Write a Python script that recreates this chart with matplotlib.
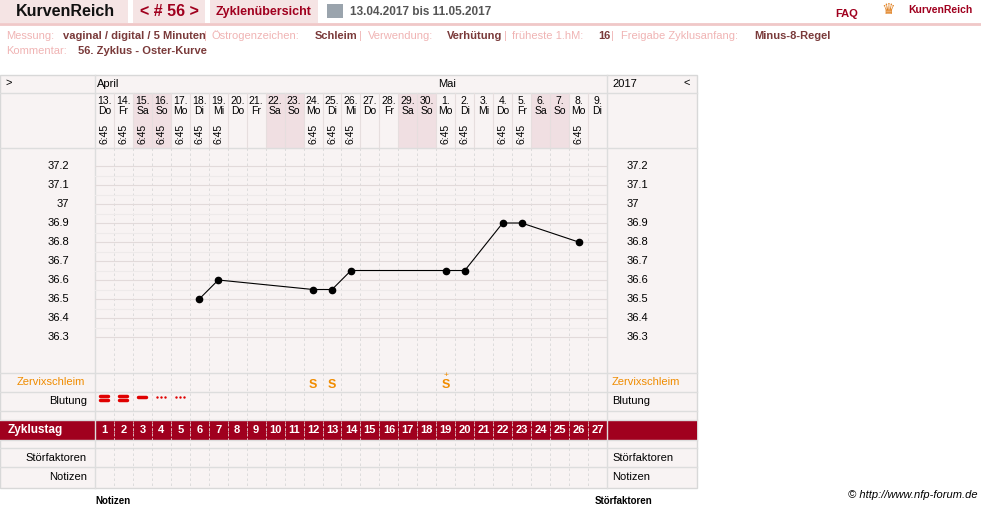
import matplotlib
matplotlib.use("Agg")
import matplotlib.pyplot as plt
from matplotlib.patches import Rectangle

plt.rcParams['font.family'] = ['Liberation Sans Narrow', 'Liberation Sans', 'DejaVu Sans']

days = list(range(1, 28))
dates = ["13.","14.","15.","16.","17.","18.","19.","20.","21.","22.","23.","24.","25.","26.","27.","28.","29.","30.","1.","2.","3.","4.","5.","6.","7.","8.","9."]
weekdays = ["Do","Fr","Sa","So","Mo","Di","Mi","Do","Fr","Sa","So","Mo","Di","Mi","Do","Fr","Sa","So","Mo","Di","Mi","Do","Fr","Sa","So","Mo","Di"]
times = ["6:45"]*7 + [""]*4 + ["6:45"]*3 + [""]*4 + ["6:45"]*2 + [""] + ["6:45"]*2 + [""]*2 + ["6:45"] + [""]
temp_days = [6, 7, 12, 13, 14, 19, 20, 22, 23, 26]
temps = [36.5, 36.6, 36.55, 36.55, 36.65, 36.65, 36.65, 36.9, 36.9, 36.8]
yticks = [36.3, 36.4, 36.5, 36.6, 36.7, 36.8, 36.9, 37.0, 37.1, 37.2]
ytick_labels = ["36.3","36.4","36.5","36.6","36.7","36.8","36.9","37","37.1","37.2"]
schleim_days = [12, 13, 19]
bleed = {1: "=", 2: "=", 3: "-", 4: "...", 5: "..."}

W, H = 981, 507
fig = plt.figure(figsize=(W/100, H/100), dpi=100)
ax = fig.add_axes([0, 0, 1, 1])
ax.set_xlim(0, W); ax.set_ylim(H, 0); ax.axis("off")

DARK = "#a0001e"; PINK = "#f5e4e4"; BG = "#f8f3f3"; GRID = "#dddddd"; LBL = "#f0b4b4"; VAL = "#7a3a3a"
X0, CW = 95, 18.96
def cx(d): return X0 + (d - 0.5) * CW

for (x0, x1) in [(0, 128), (133, 205), (210, 318)]:
    ax.add_patch(Rectangle((x0, 0), x1 - x0, 23, color=PINK, lw=0))
ax.plot([0, W], [24, 24], color="#f0c8c8", lw=2)
ax.text(16, 12, "KurvenReich", fontsize=11.5, fontweight="bold", va="center", color="#111", family=["Liberation Sans", "DejaVu Sans"])
ax.text(169, 12, "< # 56 >", fontsize=11.5, fontweight="bold", va="center", ha="center", color=DARK)
ax.text(264, 12, "Zyklenübersicht", fontsize=9, va="center", ha="center", color=DARK, fontweight="bold")
ax.add_patch(Rectangle((327, 4), 16, 14, color="#9aa4ad", lw=0))
ax.text(350, 12, "13.04.2017 bis 11.05.2017", fontsize=8.5, va="center", color="#555", fontweight="bold")
ax.text(847, 14, "FAQ", fontsize=8, va="center", ha="center", color=DARK, fontweight="bold")
ax.text(908, 10, "KurvenReich", fontsize=7.5, va="center", color=DARK, fontweight="bold")
ax.text(888, 10, "♛", fontsize=11, va="center", ha="center", color="#e08020", family=["DejaVu Sans"])

segs = [("Messung:", LBL), ("vaginal / digital / 5 Minuten", VAL), ("|", LBL), ("Östrogenzeichen:", LBL),
        ("Schleim", VAL), ("|", LBL), ("Verwendung:", LBL), ("Verhütung", VAL), ("|", LBL),
        ("früheste 1.hM:", LBL), ("16", VAL), ("|", LBL), ("Freigabe Zyklusanfang:", LBL), ("Minus-8-Regel", VAL)]
xs = [6, 63, 204, 212, 315, 359, 368, 447, 504, 512, 598, 611, 621, 754]
for (t, c), x in zip(segs, xs):
    ax.text(x, 36, t, fontsize=8, va="center", color=c, fontweight="bold" if c == VAL else "normal")
ax.text(6, 51, "Kommentar:", fontsize=8, va="center", color=LBL)
ax.text(78, 51, "56. Zyklus - Oster-Kurve", fontsize=8, va="center", color=VAL, fontweight="bold")

T0, T1 = 75, 488
ax.add_patch(Rectangle((0, T0), 697, T1 - T0, facecolor=BG, edgecolor="#d8d8d8", lw=1))
for d, wd in zip(days, weekdays):
    if wd in ("Sa", "So"):
        ax.add_patch(Rectangle((X0 + (d - 1) * CW, 93), CW, 55, color="#f0dfe2", lw=0))
for y in [93, 148, 373, 392, 411, 420, 440, 448, 467]:
    ax.plot([0, 697], [y, y], color=GRID, lw=1)
ax.plot([X0, X0], [T0, T1], color=GRID, lw=1)
ax.plot([607, 607], [T0, T1], color=GRID, lw=1)
for d in days[1:]:
    x = X0 + (d - 1) * CW
    ax.plot([x, x], [93, 148], color="#e6dede", lw=0.8)
    ax.plot([x, x], [148, T1], color="#d8d8d8", lw=0.6, ls=(0, (3, 3)))
ax.text(5, 83, ">", fontsize=8, va="center")
ax.text(690, 83, "<", fontsize=8, va="center", ha="right")
ax.text(97, 84, "April", fontsize=8, va="center")
ax.text(438, 84, "Mai", fontsize=8, va="center")
ax.text(612, 84, "2017", fontsize=8, va="center")
for d, dt, wd, tm in zip(days, dates, weekdays, times):
    ax.text(cx(d), 101, dt, fontsize=7.5, ha="center", va="center")
    ax.text(cx(d), 111, wd, fontsize=7.5, ha="center", va="center")
    if tm:
        ax.text(cx(d), 134, tm, fontsize=7.5, ha="center", va="center", rotation=90)

ax.text(85, 382, "Zervixschleim", fontsize=8, ha="right", va="center", color="#f08c00")
ax.text(612, 382, "Zervixschleim", fontsize=8, va="center", color="#f08c00")
for lab, y in [("Blutung", 401), ("Störfaktoren", 458), ("Notizen", 477)]:
    ax.text(87, y, lab, fontsize=8, ha="right", va="center")
    ax.text(612, y, lab, fontsize=8, va="center")
for d in schleim_days:
    ax.text(cx(d), 385, "S", fontsize=9, ha="center", va="center", color="#f08c00", fontweight="bold")
ax.text(cx(19), 376, "+", fontsize=6, ha="center", va="center", color="#f08c00")
for d, s in bleed.items():
    if s == "=":
        for dy in (-2, 2):
            ax.plot([cx(d) - 4, cx(d) + 4], [398 + dy, 398 + dy], color="#e00000", lw=2.5, solid_capstyle="round")
    elif s == "-":
        ax.plot([cx(d) - 4, cx(d) + 4], [397, 397], color="#e00000", lw=2.5, solid_capstyle="round")
    else:
        ax.scatter([cx(d) - 4, cx(d), cx(d) + 4], [397] * 3, s=3, color="#e00000", lw=0)

ax.add_patch(Rectangle((0, 420), 697, 20, color=DARK, lw=0))
ax.text(8, 430, "Zyklustag", fontsize=8.5, va="center", color="white", fontweight="bold")
for d in days:
    ax.text(cx(d), 430, str(d), fontsize=8, ha="center", va="center", color="white", fontweight="bold")
    if d > 1:
        x = X0 + (d - 1) * CW
        ax.plot([x, x], [421, 439], color="#e8b0b8", lw=0.6, ls=(0, (2, 2)))

ax.text(978, 495, "© http://www.nfp-forum.de", fontsize=8, ha="right", va="center", style="italic")
ax.text(95, 506, "Notizen", fontsize=7, va="bottom", fontweight="bold")
ax.text(595, 506, "Störfaktoren", fontsize=7, va="bottom", fontweight="bold")

ya0, ya1 = 372, 148
tax = fig.add_axes([X0 / W, 1 - ya0 / H, (607 - X0) / W, (ya0 - ya1) / H])
tax.set_xlim(0.5, 27.5)
tax.set_ylim(36.3 - 35 / 190, 37.2 + 18 / 190)
tax.patch.set_alpha(0)
for s in tax.spines.values(): s.set_visible(False)
tax.set_xticks([]); tax.set_yticks([])
for i in range(19):
    v = 36.3 + i * 0.05
    tax.axhline(v, color="#e2dada" if i % 2 == 0 else "#eeeaea", lw=0.8, zorder=0)
tax.plot(temp_days, temps, color="black", lw=0.8, marker="o", ms=4.5)
for v, l in zip(yticks, ytick_labels):
    y = ya0 - (v - (36.3 - 35 / 190)) * 190
    ax.text(69, y, l, fontsize=8, ha="right", va="center")
    ax.text(627, y, l, fontsize=8, va="center")

fig.savefig("out.png", dpi=100)
